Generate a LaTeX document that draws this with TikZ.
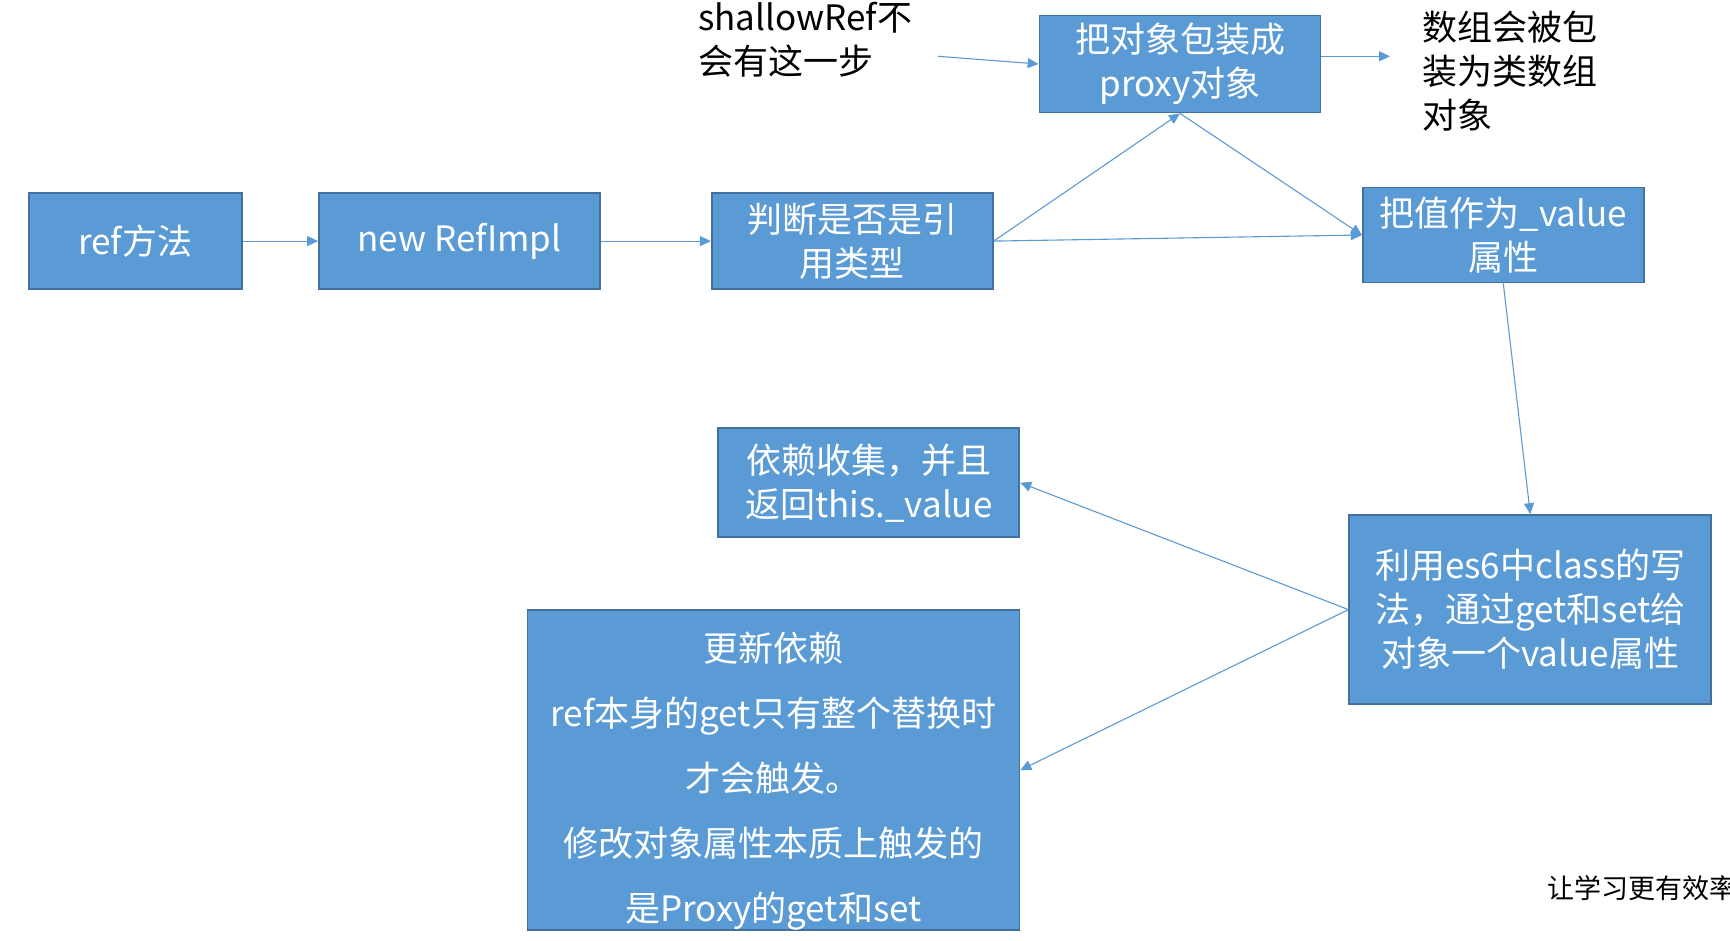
\documentclass[tikz,border=0pt]{standalone}
\usepackage{fontspec}
\setmainfont{Noto Sans CJK SC}
\usetikzlibrary{arrows.meta}
\definecolor{boxblue}{HTML}{5B9BD5}
\definecolor{boxedge}{HTML}{41719C}
\definecolor{arrowblue}{HTML}{5B9BD5}
\begin{document}
\begin{tikzpicture}[x=1pt,y=-1pt,
  box/.style={draw=boxedge, line width=1.8pt, fill=boxblue, text=white, align=center, inner sep=0pt, font=\fontsize{35}{44}\selectfont},
  boxtext/.style={text=white, align=center, inner sep=0pt},
  conn/.style={draw=arrowblue, line width=1.1pt, -{Triangle[length=11pt,width=10pt]}},
  note/.style={text=black, align=left, inner sep=0pt, anchor=west, font=\fontsize{35}{44}\selectfont}]
\useasboundingbox (0,0) rectangle (1730,941);
\clip (0,0) rectangle (1730,941);
\fill[white] (0,0) rectangle (1730,941);

\node[box, minimum width=213pt, minimum height=96pt] (ref) at (135.2,241.1) {ref方法};
\node[box, minimum width=281pt, minimum height=96pt] (impl) at (459.5,241.1) {new RefImpl};
\node[box, minimum width=281pt, minimum height=96pt] (judge) at (852.3,241.1) {判断是否是引\\用类型};
\node[box, minimum width=281pt, minimum height=97pt] (wrap) at (1180,64) {把对象包装成\\proxy对象};
\node[box, minimum width=281pt, minimum height=95pt] (val) at (1503.3,235) {把值作为\_value\\属性};
\node[box, minimum width=362pt, minimum height=189pt] (cls) at (1530.3,609.6) {利用es6中class的写\\法，通过get和set给\\对象一个value属性};
\node[box, minimum width=301pt, minimum height=109pt] (dep) at (868.8,482.7) {依赖收集，并且\\返回this.\_value};
\node[box, minimum width=492pt, minimum height=320pt] (upd) at (773.4,770.1) {};
\node[boxtext, font=\fontsize{35}{65}\selectfont] (updtext) at (773.4,781) {更新依赖\\ref本身的get只有整个替换时\\才会触发。\\修改对象属性本质上触发的\\是Proxy的get和set};

\node[note] (sh) at (698,40) {shallowRef不\\会有这一步};
\node[note] (arr) at (1422,71) {数组会被包\\装为类数组\\对象};
\node[note, font=\fontsize{27}{30}\selectfont] (wm) at (1547,888) {让学习更有效率};

\coordinate (sr) at (937.8,56.3);
\coordinate (ar) at (1390,56.3);

\draw[conn] (ref.east) -- (impl.west);
\draw[conn] (impl.east) -- (judge.west);
\draw[conn] (judge.east) -- (wrap.south);
\draw[conn] (judge.east) -- (val.west);
\draw[conn] (wrap.south) -- (val.west);
\draw[conn] (sr) -- (wrap.west);
\draw[conn] (wrap.east |- ar) -- (ar);
\draw[conn] (val.south) -- (cls.north);
\draw[conn] (cls.west) -- (dep.east);
\draw[conn] (cls.west) -- (upd.east);
\end{tikzpicture}
\end{document}
